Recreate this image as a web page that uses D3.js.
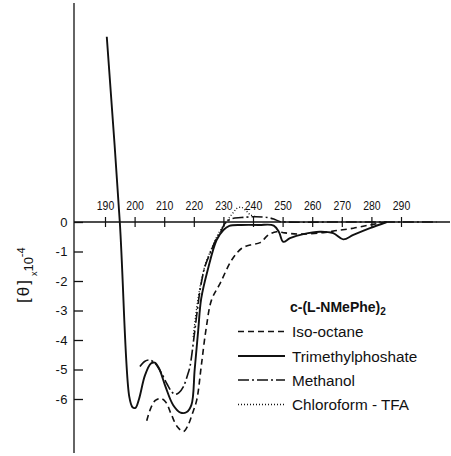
<!DOCTYPE html>
<html>
<head>
<meta charset="utf-8">
<script src="https://cdn.jsdelivr.net/npm/d3@7"></script>
<style>
  html, body { margin: 0; padding: 0; background: #fff; }
  svg { display: block; }
  text { font-family: "Liberation Sans", Arial, sans-serif; fill: #111; }
</style>
</head>
<body>
<svg id="chart" width="451" height="456"></svg>
<script>
// Wavelength ticks (nm) and ellipticity ticks ([θ] × 10^-4)
const xTicks = [190, 200, 210, 220, 230, 240, 250, 260, 270, 280, 290];
const yTicks = [0, -1, -2, -3, -4, -5, -6];

// Iso-octane
const isoOctaneWl = [204.1, 205.5, 207, 208.8, 210.5, 212.5, 214.5, 216.5, 218, 219.5, 221, 222.5, 224.1, 226, 228.9, 232.8, 236.2, 239, 242.4, 245.2, 248, 250.8, 255.9, 263.7, 268.3, 273.9, 279.5, 284, 286];
const isoOctaneTheta = [-6.74, -6.3, -6.05, -5.98, -6.1, -6.55, -6.95, -7.1, -6.9, -6.5, -6.03, -4.9, -3.66, -2.64, -2.08, -1.29, -0.89, -0.78, -0.70, -0.44, -0.33, -0.37, -0.41, -0.36, -0.29, -0.21, -0.10, -0.02, 0];

// Trimethylphosphate
const tmpWl = [190.6, 195.0, 198.2, 199.3, 200.3, 201.5, 203.5, 205.5, 206.8, 208.2, 210.5, 213, 215.5, 217.5, 219.2, 220.3, 221.5, 222.5, 224.7, 227.7, 230, 232, 236, 242, 247, 248.8, 250.2, 252.5, 257, 262.6, 267.1, 270.5, 273.9, 279.5, 285.2];
const tmpTheta = [6.28, 0, -5.92, -6.28, -6.30, -6.0, -5.2, -4.8, -4.77, -4.95, -5.6, -6.2, -6.46, -6.45, -6.2, -5.0, -3.66, -2.6, -1.63, -0.61, -0.27, -0.13, -0.1, -0.1, -0.12, -0.35, -0.67, -0.55, -0.41, -0.33, -0.38, -0.59, -0.44, -0.21, 0];

// Methanol
const methanolWl = [201.8, 203.5, 205.2, 207, 209.1, 211, 212.5, 213.6, 215, 216.5, 218, 218.7, 220.2, 221.3, 222.3, 223.8, 225.5, 227.5, 228.9, 230.5, 232.5, 236, 241, 245, 247, 249, 251, 270, 302];
const methanolTheta = [-4.9, -4.72, -4.68, -4.8, -5.13, -5.5, -5.75, -5.84, -5.78, -5.58, -5.15, -4.9, -3.8, -2.9, -2.2, -1.5, -1.06, -0.6, -0.38, -0.05, 0.1, 0.15, 0.18, 0.15, 0.1, 0.02, 0, 0, 0];

// Chloroform - TFA
const chloroformWl = [219.8, 221, 222.3, 224, 226, 228, 229.5, 231, 232.2, 233.6, 234.5, 236, 237.5, 239, 241];
const chloroformTheta = [-3.9, -2.9, -2.1, -1.4, -0.9, -0.45, -0.2, 0.0, 0.18, 0.35, 0.46, 0.5, 0.4, 0.25, 0.18];

const series = [
  { name: "Iso-octane", wl: isoOctaneWl, theta: isoOctaneTheta, dash: "6,4", width: 1.6 },
  { name: "Trimethylphoshate", wl: tmpWl, theta: tmpTheta, dash: null, width: 1.9 },
  { name: "Methanol", wl: methanolWl, theta: methanolTheta, dash: "11,3,2,3", width: 1.6 },
  { name: "Chloroform - TFA", wl: chloroformWl, theta: chloroformTheta, dash: "1,2", width: 1.3 }
];

const svg = d3.select("#chart");
const x = d3.scaleLinear().domain([190, 290]).range([105, 401]);
const y = d3.scaleLinear().domain([0, -6]).range([222, 399]);
const axisX = 74;

// Axis lines
svg.append("line").attr("x1", axisX).attr("x2", 450).attr("y1", y(0)).attr("y2", y(0))
  .attr("stroke", "#111").attr("stroke-width", 1.4);
svg.append("line").attr("x1", axisX).attr("x2", axisX).attr("y1", 3).attr("y2", 453)
  .attr("stroke", "#111").attr("stroke-width", 1.3);

// Wavelength axis: crossing ticks with labels above the zero line
const gx = svg.append("g").attr("transform", `translate(0,${y(0)})`)
  .call(d3.axisTop(x).tickValues(xTicks).tickSize(5).tickPadding(7));
gx.select(".domain").remove();
gx.selectAll(".tick line").attr("y1", 5).attr("y2", -5).attr("stroke", "#111").attr("stroke-width", 1.2);
gx.selectAll(".tick text")
  .attr("font-family", "'Liberation Sans', Arial, sans-serif")
  .attr("font-size", 13.5).attr("fill", "#111")
  .attr("textLength", 17.5).attr("lengthAdjust", "spacingAndGlyphs");

// Ellipticity axis: ticks pointing into the plot
const gy = svg.append("g").attr("transform", `translate(${axisX},0)`)
  .call(d3.axisLeft(y).tickValues(yTicks).tickSizeInner(-9).tickSizeOuter(0).tickPadding(6)
    .tickFormat(d => d === 0 ? "0" : "-" + Math.abs(d)));
gy.select(".domain").remove();
gy.selectAll(".tick line").attr("stroke", "#111").attr("stroke-width", 1.3);
gy.selectAll(".tick text")
  .attr("font-family", "'Liberation Sans', Arial, sans-serif")
  .attr("font-size", 13).attr("fill", "#111").attr("letter-spacing", 0.5);

// Y axis title: [θ] x10^-4, rotated
const yt = svg.append("text").attr("transform", "translate(29,303) rotate(-90)");
yt.append("tspan").attr("font-size", 17).attr("letter-spacing", 2).text("[θ]");
yt.append("tspan").attr("font-size", 9).attr("dx", 2).attr("dy", 8).text("x");
yt.append("tspan").attr("font-size", 13).attr("dy", -4).text("10");
yt.append("tspan").attr("font-size", 11).attr("dy", -8).text("-4");

// Curves
const line = d3.line()
  .x((d) => x(d[0]))
  .y((d) => y(d[1]))
  .curve(d3.curveCatmullRom.alpha(0.5));

series.forEach(s => {
  const pts = s.wl.map((w, i) => [w, s.theta[i]]);
  svg.append("path")
    .attr("d", line(pts))
    .attr("fill", "none")
    .attr("stroke", "#111")
    .attr("stroke-width", s.width)
    .attr("stroke-dasharray", s.dash)
    .attr("stroke-linejoin", "round");
});

// Legend
const legend = svg.append("g");
const title = legend.append("text").attr("x", 290).attr("y", 312)
  .attr("font-size", 14).attr("font-weight", "bold");
title.append("tspan").text("c-(L-NMePhe)");
title.append("tspan").attr("font-size", 10).attr("dy", 3).text("2");

const rowY = [331.5, 356, 380, 404.5];
series.forEach((s, i) => {
  legend.append("line")
    .attr("x1", 238).attr("x2", 285).attr("y1", rowY[i]).attr("y2", rowY[i])
    .attr("stroke", "#111").attr("stroke-width", s.width)
    .attr("stroke-dasharray", s.dash);
  legend.append("text")
    .attr("x", 292).attr("y", rowY[i] + 5.5)
    .attr("font-size", 15.3)
    .text(s.name);
});
</script>
</body>
</html>
